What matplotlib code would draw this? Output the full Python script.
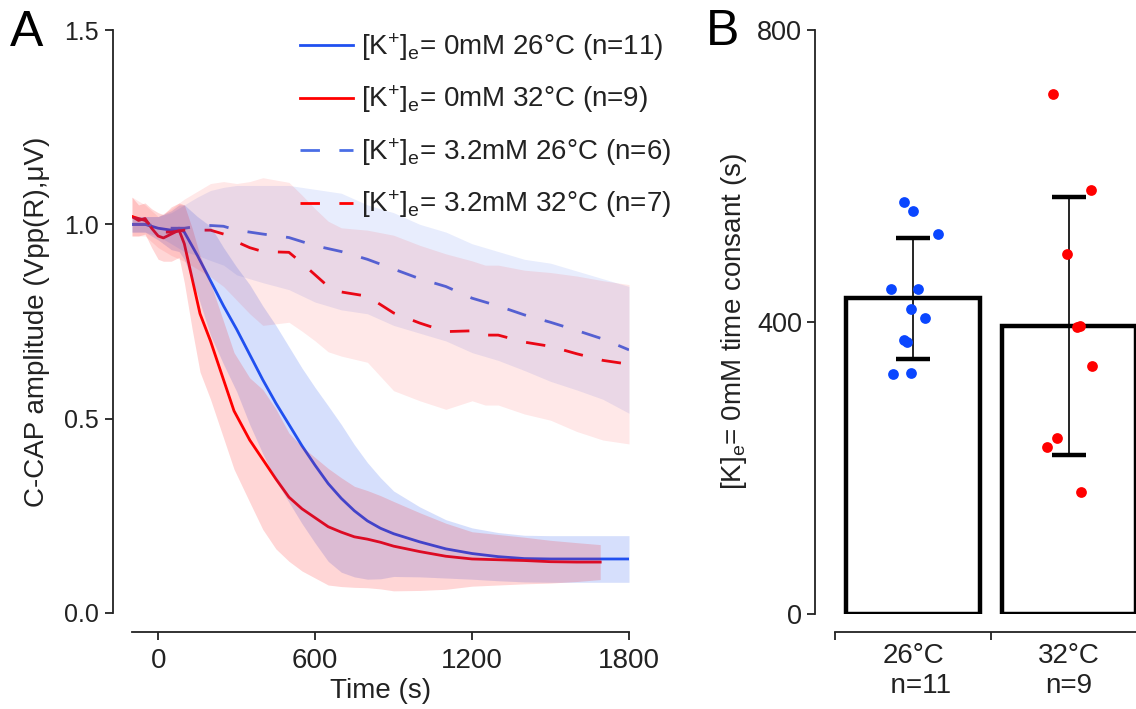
import numpy as np
import matplotlib
matplotlib.use("Agg")
from matplotlib import pyplot as plt

plt.rcParams['font.family'] = ['Liberation Sans', 'DejaVu Sans']
plt.rcParams['mathtext.default'] = 'regular'

# ---- panel A: normalised C-CAP amplitude vs time (mean +/- SD) ----
t_0mM_26 = [-100, -50, 0, 50, 80, 100, 150, 200, 250, 300, 350, 400, 450, 500, 550, 600,
            650, 700, 750, 800, 850, 900, 1000, 1100, 1200, 1300, 1400, 1500, 1600, 1700, 1800]
amp_0mM_26 = [1.00, 1.00, 0.99, 0.985, 0.99, 0.98, 0.92, 0.855, 0.79, 0.73, 0.665, 0.60, 0.54,
              0.485, 0.43, 0.38, 0.333, 0.295, 0.263, 0.237, 0.218, 0.204, 0.183, 0.165, 0.153,
              0.145, 0.14, 0.139, 0.139, 0.139, 0.139]
sd_0mM_26 = [0.02, 0.02, 0.03, 0.05, 0.06, 0.07, 0.10, 0.14, 0.15, 0.16, 0.18, 0.19, 0.2, 0.2,
             0.2, 0.2, 0.2, 0.19, 0.17, 0.15, 0.13, 0.11, 0.09, 0.075, 0.066, 0.062, 0.06, 0.06,
             0.06, 0.06, 0.06]

t_0mM_32 = [-100, -75, -50, -25, 0, 20, 50, 80, 100, 130, 160, 200, 225, 250, 290, 350, 400,
            450, 500, 550, 600, 650, 700, 750, 800, 850, 900, 1000, 1100, 1200, 1300, 1400,
            1500, 1600, 1690]
amp_0mM_32 = [1.02, 1.01, 1.015, 0.99, 0.97, 0.965, 0.975, 0.985, 0.95, 0.86, 0.77, 0.70, 0.65,
              0.60, 0.52, 0.445, 0.395, 0.345, 0.298, 0.268, 0.245, 0.222, 0.208, 0.196, 0.19,
              0.182, 0.172, 0.158, 0.146, 0.139, 0.137, 0.135, 0.132, 0.131, 0.131]
sd_0mM_32 = [0.05, 0.04, 0.04, 0.05, 0.06, 0.06, 0.07, 0.07, 0.1, 0.13, 0.15, 0.15, 0.15, 0.15,
             0.15, 0.16, 0.18, 0.18, 0.165, 0.16, 0.155, 0.15, 0.14, 0.13, 0.125, 0.12, 0.115,
             0.1, 0.085, 0.07, 0.065, 0.06, 0.055, 0.05, 0.045]

t_32mM_26 = [-100, -50, 0, 50, 100, 150, 200, 250, 300, 400, 500, 600, 700, 800, 900, 1000,
             1100, 1200, 1300, 1400, 1500, 1600, 1700, 1800]
amp_32mM_26 = [1.0, 1.0, 0.995, 0.99, 0.99, 0.995, 0.997, 0.995, 0.985, 0.975, 0.966, 0.945,
               0.93, 0.91, 0.885, 0.86, 0.84, 0.81, 0.79, 0.767, 0.748, 0.727, 0.705, 0.677]
sd_32mM_26 = [0.02, 0.02, 0.025, 0.04, 0.06, 0.075, 0.09, 0.1, 0.115, 0.125, 0.134, 0.145,
              0.15, 0.14, 0.145, 0.14, 0.14, 0.14, 0.14, 0.143, 0.152, 0.153, 0.155, 0.163]

t_32mM_32 = [-100, -50, 0, 50, 100, 200, 250, 300, 350, 400, 500, 550, 600, 650, 700, 800,
             900, 1000, 1100, 1200, 1250, 1300, 1400, 1500, 1600, 1700, 1800]
amp_32mM_32 = [1.02, 1.01, 0.98, 0.98, 0.985, 0.985, 0.975, 0.955, 0.94, 0.93, 0.928, 0.90,
               0.87, 0.84, 0.826, 0.815, 0.772, 0.746, 0.724, 0.726, 0.715, 0.715, 0.697,
               0.686, 0.667, 0.65, 0.64]
sd_32mM_32 = [0.05, 0.04, 0.04, 0.06, 0.08, 0.12, 0.135, 0.15, 0.17, 0.19, 0.18, 0.175, 0.17,
              0.168, 0.165, 0.17, 0.2, 0.2, 0.2, 0.18, 0.18, 0.18, 0.185, 0.19, 0.2, 0.205, 0.205]

# ---- panel B: time constants per cell ----
temp_labels = ['26°C\n  n=11', '32°C\nn=9']
tau_26 = [564, 552, 520, 445, 445, 418, 405, 375, 372, 329, 330]
tau_32 = [712, 581, 493, 393, 395, 340, 241, 229, 167]
# horizontal scatter of the dots (layout only)
jit_26 = [-0.06, 0.0, 0.16, -0.14, 0.03, -0.01, 0.08, -0.06, -0.04, -0.13, -0.01]
jit_32 = [-0.10, 0.14, -0.01, 0.05, 0.07, 0.15, -0.08, -0.14, 0.08]

BLUE = '#2050f0'
BLUE_D = '#4a6ee6'
RED = '#ff0000'
INK = '#222222'
FS = 20

fig = plt.figure(figsize=(11.36, 7.09), dpi=100)
fig.patch.set_facecolor('white')

# Panel A
axA = fig.add_axes([132 / 1136, 1 - 613 / 709, 497 / 1136, 583 / 709])
series = [
    (t_0mM_26, amp_0mM_26, sd_0mM_26, BLUE, BLUE, '-', 0.18,
     '[K$^{+}$]$_{e}$= 0mM 26°C (n=11)'),
    (t_0mM_32, amp_0mM_32, sd_0mM_32, RED, RED, '-', 0.16,
     '[K$^{+}$]$_{e}$= 0mM 32°C (n=9)'),
    (t_32mM_26, amp_32mM_26, sd_32mM_26, BLUE_D, BLUE, '--', 0.10,
     '[K$^{+}$]$_{e}$= 3.2mM 26°C (n=6)'),
    (t_32mM_32, amp_32mM_32, sd_32mM_32, RED, RED, '--', 0.09,
     '[K$^{+}$]$_{e}$= 3.2mM 32°C (n=7)'),
]
for t, m, s, lc, fc, ls, a, lab in series:
    t = np.array(t)
    m = np.array(m)
    s = np.array(s)
    if ls == '--':
        axA.plot(t, m, color=lc, lw=2, dashes=(7, 7), label=lab, zorder=2)
    else:
        axA.plot(t, m, color=lc, lw=2, label=lab, zorder=2)
    axA.fill_between(t, m - s, m + s, color=fc, alpha=a, lw=0, zorder=3)

axA.set_xlim(-100, 1800)
axA.set_ylim(0, 1.5)
axA.set_xticks([0, 600, 1200, 1800])
axA.set_yticks([0.0, 0.5, 1.0, 1.5])
axA.set_yticklabels(['0.0', '0.5', '1.0', '1.5'])
axA.spines['top'].set_visible(False)
axA.spines['right'].set_visible(False)
axA.spines['left'].set_position(('outward', 14))
axA.spines['bottom'].set_position(('outward', 14))
for sp in ['left', 'bottom']:
    axA.spines[sp].set_linewidth(1.3)
    axA.spines[sp].set_color(INK)
axA.tick_params(direction='out', length=6, width=1.3, color=INK, labelcolor=INK)
axA.tick_params(axis='x', labelsize=FS, pad=5)
axA.tick_params(axis='y', labelsize=18, pad=4)
axA.set_xlabel('Time (s)', fontsize=FS, labelpad=3, color=INK)
axA.set_ylabel('C-CAP amplitude (Vpp(R),μV)', fontsize=FS, labelpad=10, color=INK)
leg = axA.legend(loc='upper left', bbox_to_anchor=(300 / 1136, 1 - 31 / 709),
                 bbox_transform=fig.transFigure, frameon=False, fontsize=FS,
                 handlelength=1.9, handletextpad=0.3, labelspacing=0.75,
                 borderpad=0, borderaxespad=0)
for txt in leg.get_texts():
    txt.set_color(INK)
fig.text(27 / 1136, 1 - 33 / 709, 'A', fontsize=36, ha='center', va='center')

# Panel B
axB = fig.add_axes([835 / 1136, 1 - 614 / 709, 312 / 1136, 584 / 709])
xs = np.arange(len(temp_labels))
groups = [np.array(tau_26, float), np.array(tau_32, float)]
means = [g.mean() for g in groups]
sds = [g.std(ddof=1) for g in groups]
axB.bar(xs, means, width=0.86, facecolor='white', edgecolor='black', linewidth=3.2, zorder=2)
axB.errorbar(xs, means, yerr=sds, fmt='none', ecolor='black', elinewidth=1.2,
             capsize=12.5, capthick=3.2, zorder=3)
axB.scatter(xs[0] + np.array(jit_26), tau_26, s=60, color='#0a46ff', lw=0, zorder=4)
axB.scatter(xs[1] + np.array(jit_32), tau_32, s=60, color=RED, lw=0, zorder=4)

axB.set_xlim(-0.5, 1.5)
axB.set_ylim(0, 800)
axB.set_yticks([0, 400, 800])
axB.set_xticks([-0.5, 0.5, 1.5])
axB.set_xticklabels(['', '', ''])
axB.set_xticks(xs, minor=True)
axB.set_xticklabels(temp_labels, minor=True)
axB.tick_params(axis='x', which='minor', length=0, pad=8, labelsize=FS, labelcolor=INK)
axB.spines['top'].set_visible(False)
axB.spines['right'].set_visible(False)
axB.spines['left'].set_position(('outward', 14.5))
axB.spines['bottom'].set_position(('outward', 13))
for sp in ['left', 'bottom']:
    axB.spines[sp].set_linewidth(1.3)
    axB.spines[sp].set_color(INK)
axB.tick_params(which='major', direction='out', length=6, width=1.3, labelsize=19.5,
                color=INK, labelcolor=INK, pad=3)
axB.set_ylabel('[K]$_{e}$= 0mM time consant (s)', fontsize=FS, labelpad=6, color=INK)
fig.text(723 / 1136, 1 - 32 / 709, 'B', fontsize=36, ha='center', va='center')

fig.savefig('out.png', dpi=100, facecolor='white')
